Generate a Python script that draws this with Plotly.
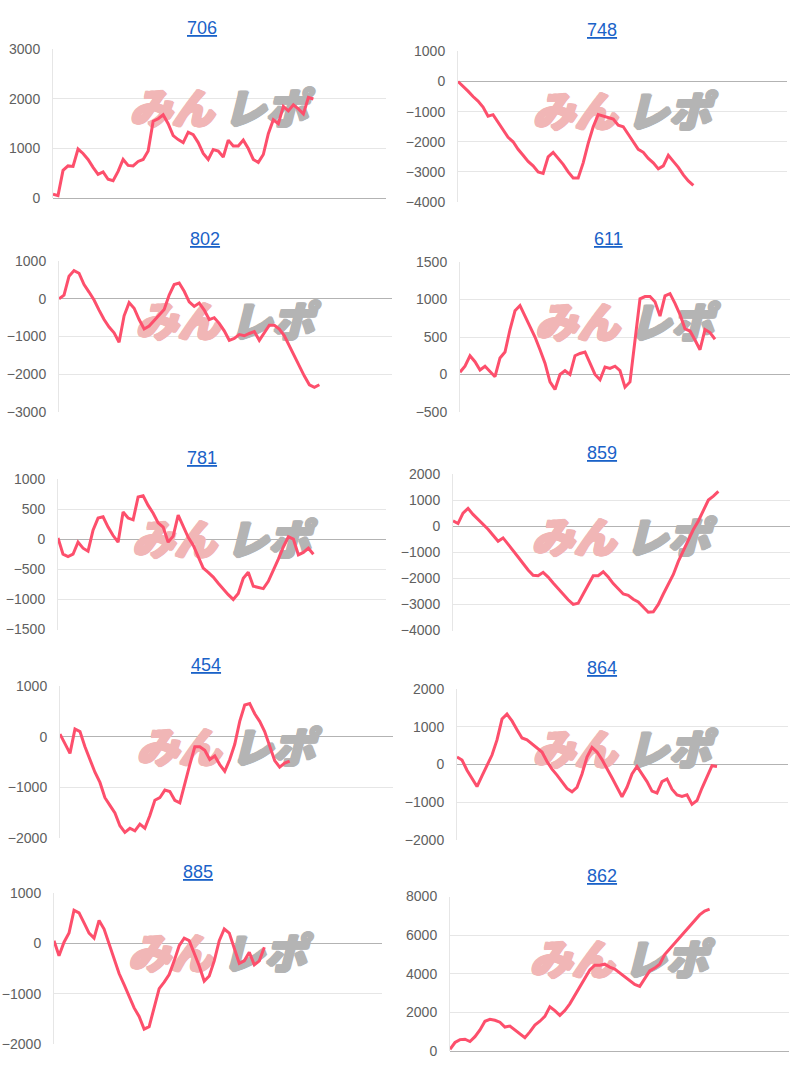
import plotly.graph_objects as go

W, H = 800, 1072

# ---------------- data ----------------
titles = ["706", "748", "802", "611", "781", "859", "454", "864", "885", "862"]

s706 = [80, 50, 560, 650, 640, 990, 900, 780, 620, 480, 530, 380, 350, 540, 780, 660, 650, 740,
        780, 950, 1550, 1600, 1680, 1500, 1260, 1180, 1120, 1330, 1280, 1120, 900, 780, 980, 950,
        830, 1170, 1050, 1050, 1170, 1000, 780, 720, 880, 1300, 1580, 1500, 1850, 1760, 1880,
        1800, 1700, 2030, 2000]
s748 = [0, -150, -320, -500, -650, -850, -1150, -1100, -1350, -1600, -1850, -2000, -2250, -2450,
        -2650, -2800, -3000, -3050, -2500, -2350, -2550, -2750, -3000, -3200, -3200, -2700, -2050,
        -1500, -1100, -1150, -1200, -1250, -1450, -1500, -1750, -2000, -2250, -2350, -2550, -2700,
        -2900, -2800, -2450, -2650, -2850, -3100, -3300, -3450]
s802 = [0, 100, 600, 750, 680, 380, 180, -30, -300, -550, -750, -900, -1150, -450, -100, -250,
        -550, -800, -720, -570, -450, -280, 100, 380, 420, 200, -80, -200, -110, -300, -550, -500,
        -650, -850, -1100, -1050, -950, -980, -920, -870, -1100, -900, -700, -700, -800, -980,
        -1250, -1550, -1800, -2050, -2280, -2350, -2280]
s611 = [30, 110, 250, 170, 60, 110, 40, -30, 220, 300, 600, 850, 920, 780, 650, 500, 330, 150,
        -100, -200, 0, 50, 0, 250, 280, 300, 150, 0, -70, 100, 80, 110, 50, -170, -100, 500, 1010,
        1040, 1040, 970, 780, 1050, 1080, 950, 800, 610, 580, 460, 330, 600, 560, 470]
s781 = [20, -250, -290, -250, -50, -150, -200, 150, 350, 370, 200, 60, -50, 450, 350, 320, 700,
        720, 560, 430, 270, 200, -50, 50, 400, 200, 30, -100, -300, -480, -550, -630, -730, -830,
        -920, -1000, -900, -650, -550, -780, -800, -820, -700, -520, -330, -130, 40, 0, -260,
        -220, -150, -250]
s859 = [200, 100, 500, 680, 450, 270, 70, -120, -350, -580, -450, -680, -930, -1180, -1430,
        -1680, -1880, -1900, -1770, -1950, -2180, -2400, -2620, -2820, -3000, -2950, -2600,
        -2250, -1900, -1900, -1750, -1950, -2200, -2400, -2600, -2650, -2800, -2900, -3100,
        -3300, -3280, -3000, -2600, -2200, -1850, -1350, -930, -530, -130, 200, 600, 1000, 1150,
        1330]
s454 = [50, -150, -330, 150, 100, -200, -450, -700, -900, -1200, -1350, -1500, -1750, -1880,
        -1800, -1850, -1720, -1800, -1550, -1250, -1200, -1050, -1080, -1250, -1300, -900, -550,
        -200, -200, -270, -450, -380, -550, -680, -450, -150, 300, 620, 650, 450, 300, 100, -200,
        -470, -600, -520, -480]
s864 = [200, 120, -150, -380, -580, -300, -30, 250, 650, 1200, 1330, 1150, 920, 700, 650, 550,
        440, 330, 80, -120, -280, -470, -630, -720, -600, -250, 200, 450, 330, 130, -100, -350,
        -600, -850, -600, -250, -50, -250, -450, -700, -750, -450, -380, -650, -800, -840, -800,
        -1050, -950, -620, -300, -30, -50]
s885 = [50, -250, 20, 200, 650, 600, 400, 200, 100, 450, 280, 0, -300, -600, -820, -1050, -1280,
        -1450, -1700, -1650, -1300, -900, -770, -620, -350, -50, 100, 50, -200, -450, -750, -650,
        -350, 50, 280, 200, -100, -400, -350, -180, -430, -350, -80]
s862 = [100, 450, 600, 620, 500, 750, 1100, 1550, 1650, 1600, 1500, 1250, 1300, 1100, 900, 700,
        1000, 1350, 1550, 1800, 2300, 2100, 1850, 2100, 2450, 2900, 3350, 3800, 4200, 4450, 4450,
        4500, 4350, 4250, 4050, 3850, 3650, 3450, 3350, 3750, 4150, 4300, 4500, 5000, 5300, 5600,
        5900, 6150, 6500, 6800, 7050, 7250, 7350]

series = [s706, s748, s802, s611, s781, s859, s454, s864, s885, s862]

y_min = [0, -4000, -3000, -500, -1500, -4000, -2000, -2000, -2000, 0]
y_max = [3000, 1000, 1000, 1500, 1000, 2000, 1000, 2000, 1000, 8000]
y_step = [1000, 1000, 1000, 500, 500, 1000, 1000, 1000, 1000, 2000]

# ---------------- layout (pixels) ----------------
# plot boxes: left, right, top, bottom
boxes = [
    (53, 386, 42, 193), (458, 787, 44, 197),
    (59, 392, 257, 410), (460, 790, 258, 410),
    (58, 386, 478, 631), (453, 790, 473, 632),
    (60, 393, 688, 843), (457, 788, 691, 845),
    (54, 382, 898, 1052), (450, 789, 902, 1059),
]
title_pos = [(202, 20), (602, 22), (205, 235), (608, 235), (202, 457),
             (602, 452), (206, 667), (602, 670), (198, 877), (602, 881)]
x_len = [66.5, 65.7, 66.5, 66.0, 65.5, 67.3, 66.7, 66.2, 65.5, 67.9]

LINE = "#fd4f6c"
GRID = "#e6e6e6"
PINK = "#f1b6b6"
GRAY = "#b4b4b4"


def thick(c):
    return ", ".join(f"{dx}px {dy}px 0 {c}" for dx, dy in
                     [(1, 0), (-1, 0), (0, 1), (0, -1), (1, 1), (-1, -1), (1, -1), (-1, 1), (2, 0)])


fig = go.Figure()
annotations = []
layout_axes = {}

for i in range(10):
    k = "" if i == 0 else str(i + 1)
    x0, x1, t, b = boxes[i]
    vals = series[i]
    n = len(vals)

    # watermark (drawn first so the line sits on top)
    span = y_max[i] - y_min[i]
    wy = (y_min[i] + y_max[i]) / 2 + 10.0 / (b - t) * span
    xpp = x_len[i] / (x1 - x0)   # data units per pixel
    xc = x_len[i] / 2
    for txt, col, dx in (("みん", PINK, -48), ("レポ", GRAY, 46)):
        fig.add_trace(go.Scatter(
            x=[xc + dx * xpp], y=[wy], mode="text", text=[txt],
            textfont=dict(family="Noto Sans CJK JP", size=42, color=col,
                          weight=900, style="italic", shadow=thick(col)),
            textposition="middle center", hoverinfo="skip",
            xaxis="x" + k, yaxis="y" + k, showlegend=False))

    fig.add_trace(go.Scatter(
        x=list(range(n)), y=vals, mode="lines",
        line=dict(color=LINE, width=3),
        xaxis="x" + k, yaxis="y" + k, showlegend=False))

    layout_axes["xaxis" + k] = dict(
        domain=[x0 / W, x1 / W], range=[0, x_len[i]], anchor="y" + k,
        showgrid=False, zeroline=False, showticklabels=False, showline=False,
        fixedrange=True)
    layout_axes["yaxis" + k] = dict(
        domain=[1 - b / H, 1 - t / H], range=[y_min[i], y_max[i]], anchor="x" + k,
        tick0=y_min[i], dtick=y_step[i], showgrid=True, gridcolor=GRID, gridwidth=1,
        zeroline=True, zerolinecolor="#b3b3b3", zerolinewidth=1,
        showline=True, linecolor=GRID, linewidth=1,
        ticks="", ticklabelstandoff=9,
        tickfont=dict(family="Liberation Sans, Arial", size=14, color="#606060"),
        fixedrange=True)

    cx, cy = title_pos[i]
    annotations.append(dict(
        text="<u>" + titles[i] + "</u>", x=cx / W, y=1 - cy / H,
        xref="paper", yref="paper", xanchor="center", yanchor="middle",
        showarrow=False,
        font=dict(family="Liberation Sans, Arial", size=18, color="#1a62c8")))

fig.update_layout(
    width=W, height=H, margin=dict(l=0, r=0, t=0, b=0),
    paper_bgcolor="white", plot_bgcolor="white",
    showlegend=False, annotations=annotations, **layout_axes)

fig.write_html("out.html")
